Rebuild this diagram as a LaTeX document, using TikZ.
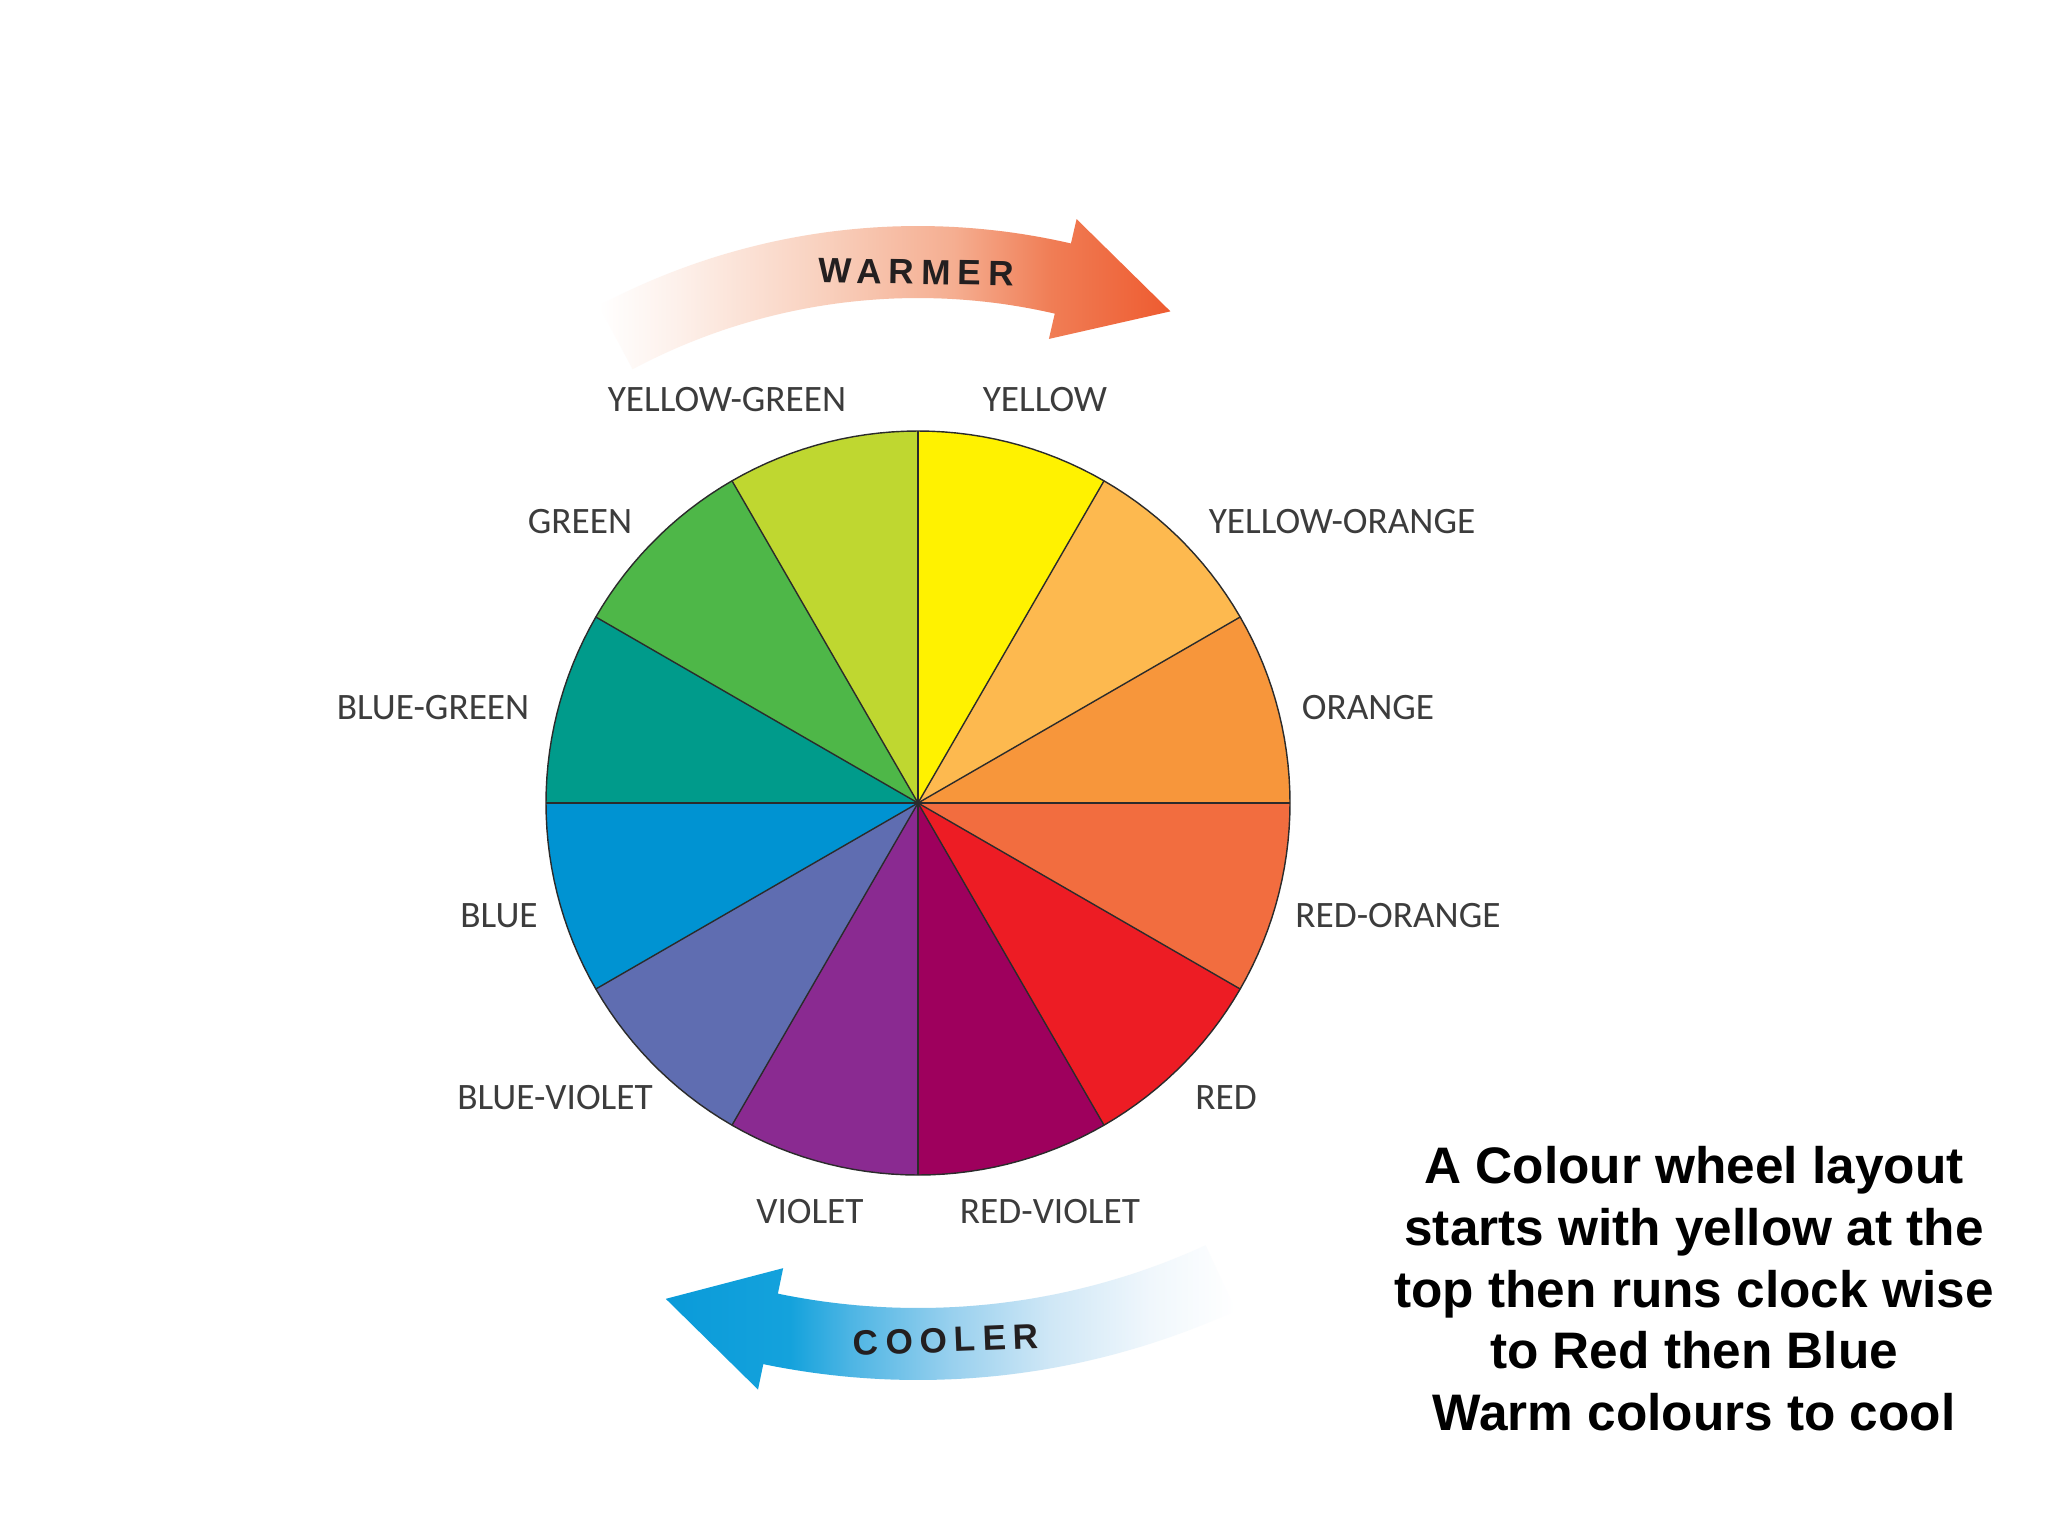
\documentclass[tikz,border=0pt]{standalone}
\usepackage{fontspec}
\setmainfont{Liberation Sans}
\newfontfamily\lblfont{Carlito}
\newfontfamily\arrfont[LetterSpace=20]{Liberation Sans}
\newfontfamily\bodyfont{Liberation Sans}

\definecolor{cyellow}{HTML}{FFF200}
\definecolor{cyo}{HTML}{FDB94F}
\definecolor{corange}{HTML}{F7963B}
\definecolor{cro}{HTML}{F26D3F}
\definecolor{cred}{HTML}{ED1C24}
\definecolor{crv}{HTML}{9E005D}
\definecolor{cviolet}{HTML}{8A2A91}
\definecolor{cbv}{HTML}{5F6DB1}
\definecolor{cblue}{HTML}{0093D2}
\definecolor{cbg}{HTML}{009B8B}
\definecolor{cgreen}{HTML}{4EB748}
\definecolor{cyg}{HTML}{BFD730}
\definecolor{lblgray}{HTML}{3C3C3C}
\definecolor{spokecol}{HTML}{2B2B2B}
\definecolor{arrtext}{HTML}{231F20}

\definecolor{warma}{HTML}{FDF0EA}
\definecolor{warmb}{HTML}{F9D2C0}
\definecolor{warmc}{HTML}{F5AE91}
\definecolor{warmd}{HTML}{F07D55}
\definecolor{warme}{HTML}{EE5B30}
\definecolor{coola}{HTML}{0A9BD9}
\definecolor{coolb}{HTML}{14A2DC}
\definecolor{coolc}{HTML}{4DB5E4}
\definecolor{coold}{HTML}{98D0EE}
\definecolor{coole}{HTML}{CFE7F6}
\definecolor{coolf}{HTML}{F0F7FC}

\pgfdeclarehorizontalshading{warmshade}{100bp}{color(0bp)=(white); color(25bp)=(white); color(32bp)=(warma); color(44bp)=(warmb); color(56bp)=(warmc); color(64.6bp)=(warmd); color(75bp)=(warme); color(100bp)=(warme)}
\pgfdeclarehorizontalshading{coolshade}{100bp}{color(0bp)=(coola); color(25bp)=(coola); color(35.9bp)=(coolb); color(41.2bp)=(coolc); color(50bp)=(coold); color(58.7bp)=(coole); color(67.5bp)=(coolf); color(75bp)=(white); color(100bp)=(white)}

\tikzset{
  lbl/.style={font=\lblfont\fontsize{10.6}{12}\selectfont, text=lblgray, inner sep=0pt},
  arrtxt/.style={font=\arrfont\bfseries\fontsize{10}{12}\selectfont, text=arrtext, inner sep=0pt},
  body/.style={font=\bodyfont\bfseries\fontsize{14.6}{17.5}\selectfont, text=black, inner sep=0pt},
  spoke/.style={draw=spokecol, line width=0.4pt},
}

\begin{document}
\begin{tikzpicture}[x=0.01cm, y=-0.01cm]
\useasboundingbox (0,0) rectangle (2048,1536);
\fill[white] (0,0) rectangle (2048,1536);

% colour wheel
\coordinate (wc) at (918,803);
\begin{scope}[shift={(wc)}]
  \foreach \a/\b/\c in {-90/-60/cyellow, -60/-30/cyo, -30/0/corange, 0/30/cro, 30/60/cred, 60/90/crv, 90/120/cviolet, 120/150/cbv, 150/180/cblue, 180/210/cbg, 210/240/cgreen, 240/270/cyg}{
    \fill[\c] (0,0) -- plot[domain=\a:\b, samples=25] ({372*cos(\x)},{372*sin(\x)}) -- cycle;
  }
  \foreach \a in {0,30,...,330}{
    \draw[spoke] (0,0) -- (\a:372);
  }
  \draw[spoke] plot[domain=0:360, samples=181] ({372*cos(\x)},{372*sin(\x)}) -- cycle;
\end{scope}

% warmer arrow
\coordinate (warmc) at (918,906);
\begin{scope}[shift={(warmc)}]
  \shade[shading=warmshade] plot[domain=-118:-77, samples=50] ({680*cos(\x)},{680*sin(\x)})
    -- (-77:705) -- (-67:646) -- (-77:582)
    -- plot[domain=-77:-118, samples=50] ({608*cos(\x)},{608*sin(\x)}) -- cycle;
\end{scope}
\node[arrtxt, rotate=-1] (warm) at (916,272) {WARMER};

% cooler arrow
\coordinate (coolc) at (918,617);
\begin{scope}[shift={(coolc)}]
  \shade[shading=coolshade] plot[domain=65.4:101.7, samples=50] ({763*cos(\x)},{763*sin(\x)})
    -- (101.7:789) -- (110.3:727) -- (101.7:665)
    -- plot[domain=101.7:65.4, samples=50] ({691*cos(\x)},{691*sin(\x)}) -- cycle;
\end{scope}
\node[arrtxt, rotate=2.3] (cool) at (946,1340) {COOLER};

% labels
\node[lbl] (lyg) at (727,400) {YELLOW-GREEN};
\node[lbl] (ly) at (1045,400) {YELLOW};
\node[lbl] (lg) at (580,522) {GREEN};
\node[lbl] (lyo) at (1342,522) {YELLOW-ORANGE};
\node[lbl] (lbg) at (433,708) {BLUE-GREEN};
\node[lbl] (lo) at (1368,708) {ORANGE};
\node[lbl] (lb) at (499,916) {BLUE};
\node[lbl] (lro) at (1398,916) {RED-ORANGE};
\node[lbl] (lbv) at (555,1098) {BLUE-VIOLET};
\node[lbl] (lr) at (1226,1098) {RED};
\node[lbl] (lv) at (810,1212) {VIOLET};
\node[lbl] (lrv) at (1050,1212) {RED-VIOLET};

% note
\node[body, anchor=north, align=center] (note) at (1694,1146) {A Colour wheel layout\\ starts with yellow at the\\ top then runs clock wise\\ to Red then Blue\\ Warm colours to cool};
\end{tikzpicture}
\end{document}
